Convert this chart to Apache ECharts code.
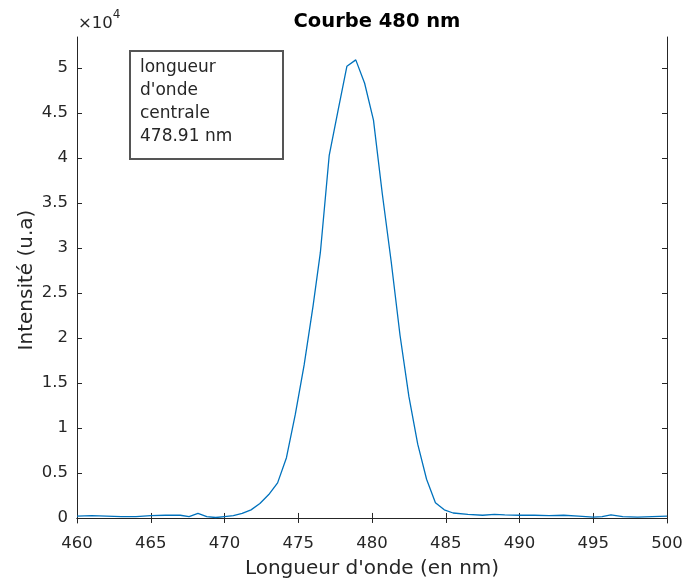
<!DOCTYPE html>
<html>
<head>
<meta charset="utf-8">
<script src="https://cdn.jsdelivr.net/npm/echarts@6/dist/echarts.min.js"></script>
<style>
  html, body { margin: 0; padding: 0; background: #fff; }
  #chart { width: 689px; height: 587px; }
</style>
</head>
<body>
<div id="chart"></div>
<script>
// longueur d'onde (nm)
const wavelengths = [
  460, 461, 462, 463, 464, 465, 466, 467, 467.6, 468.2, 468.8, 469.4,
  470, 470.6, 471.2, 471.8, 472.4, 473.0, 473.6, 474.2, 474.8, 475.4,
  476.0, 476.5, 477.1, 477.7, 478.3, 478.9, 479.5, 480.1, 480.7, 481.3,
  481.9, 482.5, 483.1, 483.7, 484.3, 484.9, 485.5, 486.5, 487.5, 488.3,
  489, 490, 491, 492, 493, 494, 495, 495.6, 496.2, 497, 498, 499, 500
];
// intensité (u.a)
const intensities = [
  200, 250, 200, 150, 150, 250, 300, 300, 150, 500, 150, 50,
  150, 250, 500, 900, 1600, 2600, 3900, 6700, 11500, 17000,
  23500, 29500, 40300, 45300, 50200, 50900, 48300, 44200, 36000, 28500,
  20300, 13500, 8200, 4300, 1700, 900, 550, 400, 300, 400,
  350, 300, 300, 250, 300, 200, 100, 150, 350, 150, 100, 150, 200
];
const yTicks = [0, 5000, 10000, 15000, 20000, 25000, 30000, 35000, 40000, 45000, 50000];
const annotationLines = ["longueur", "d'onde", "centrale", "478.91 nm"];

const font = "DejaVu Sans";
const ink = "#262626";

const chart = echarts.init(document.getElementById("chart"));

const xBase = {
  type: "value",
  min: 460,
  max: 500,
  interval: 5,
  axisLine: { show: true, lineStyle: { color: ink, width: 1 } },
  axisTick: { show: true, inside: true, length: 5, lineStyle: { color: ink } },
  splitLine: { show: false }
};
const yBase = {
  type: "value",
  min: -560,
  max: 53440,
  axisLine: { show: true, lineStyle: { color: ink, width: 1 } },
  axisTick: { show: true, inside: true, length: 5, customValues: yTicks, lineStyle: { color: ink } },
  splitLine: { show: false }
};

chart.setOption({
  animation: false,
  title: {
    text: "Courbe 480 nm",
    left: 372,
    top: 7,
    textAlign: "center",
    textStyle: { fontFamily: font, fontSize: 19.5, fontWeight: "bold", color: "#000" }
  },
  grid: { left: 77, right: 22, top: 37, bottom: 64 },
  xAxis: [
    Object.assign({}, xBase, {
      position: "bottom",
      name: "Longueur d'onde (en nm)",
      nameLocation: "middle",
      nameGap: 36,
      nameMoveOverlap: false,
      nameTextStyle: { fontFamily: font, fontSize: 20, color: ink },
      axisLabel: { fontFamily: font, fontSize: 16.5, color: ink, margin: 12 }
    }),
    Object.assign({}, xBase, { position: "top", axisLabel: { show: false } })
  ],
  yAxis: [
    Object.assign({}, yBase, {
      position: "left",
      name: "Intensité (u.a)",
      nameLocation: "middle",
      nameGap: 40,
      nameMoveOverlap: false,
      nameTextStyle: { fontFamily: font, fontSize: 20, color: ink },
      axisLabel: {
        fontFamily: font, fontSize: 16.5, color: ink, margin: 9,
        customValues: yTicks,
        formatter: v => String(Math.round(v / 1000) / 10)
      }
    }),
    Object.assign({}, yBase, { position: "right", axisLabel: { show: false } })
  ],
  series: [{
    type: "line",
    data: wavelengths.map((w, i) => [w, intensities[i]]),
    showSymbol: false,
    lineStyle: { color: "#0072BD", width: 1.3 },
    itemStyle: { color: "#0072BD" }
  }],
  graphic: [
    {
      type: "text",
      left: 78,
      top: 9,
      style: {
        text: "{a|×10}{b|4}",
        rich: {
          a: { fontFamily: font, fontSize: 16.5, fill: ink, padding: [6, 0, 0, 0] },
          b: { fontFamily: font, fontSize: 12, fill: ink, verticalAlign: "top" }
        }
      }
    },
    {
      type: "rect",
      shape: { x: 130, y: 51, width: 153, height: 108 },
      style: { fill: "#fff", stroke: "#555", lineWidth: 2 }
    },
    {
      type: "text",
      left: 140,
      top: 56,
      style: {
        text: annotationLines.join("\n"),
        fontFamily: font,
        fontSize: 17,
        lineHeight: 23,
        fill: ink
      }
    }
  ]
});
</script>
</body>
</html>
